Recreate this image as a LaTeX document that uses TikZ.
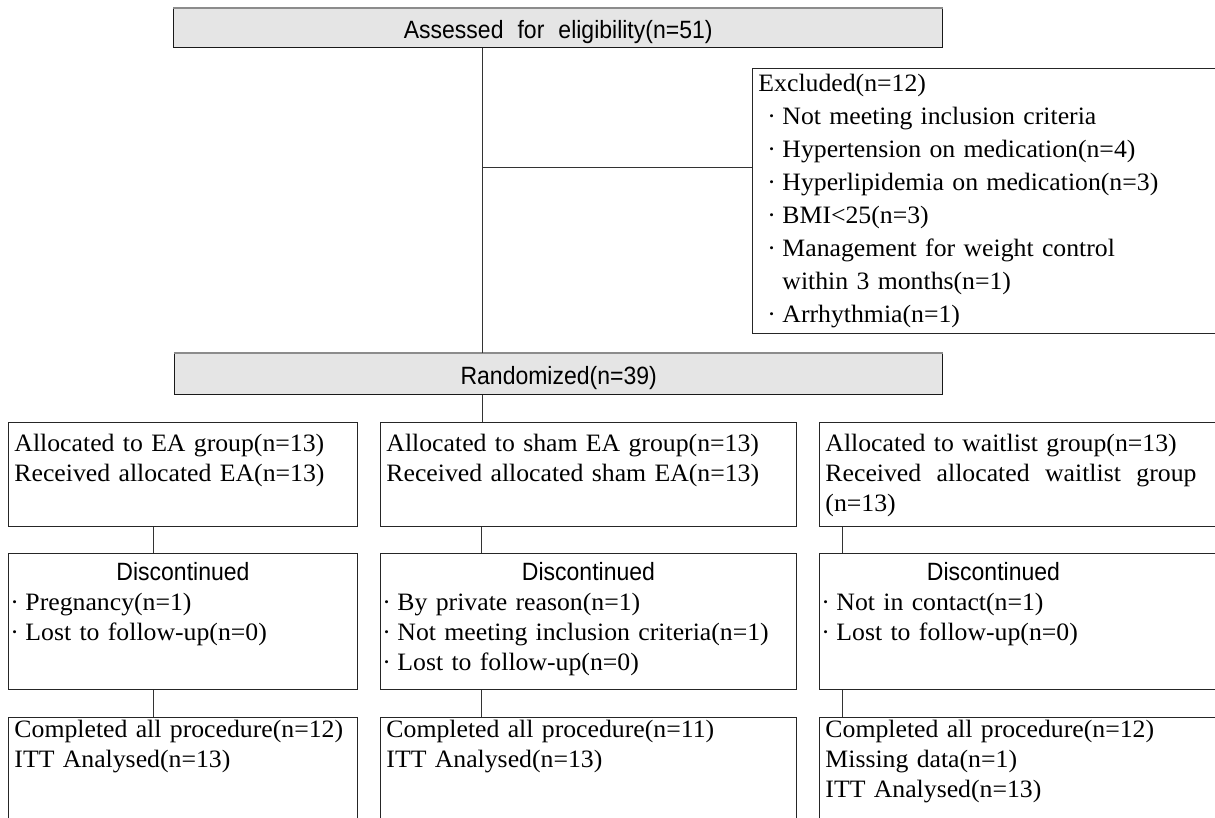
\documentclass[tikz,border=0pt]{standalone}
\usepackage{fontspec}
\setmainfont{Liberation Serif}[FakeStretch=1.03, WordSpace=1.3]
\newfontfamily\sanshead{Liberation Sans}[FakeStretch=0.92, WordSpace=2.2]
\usetikzlibrary{calc}
\newcommand{\itm}{\makebox[15pt][l]{·}}
\tikzset{
  cell/.style={draw=black!85, line width=0.9pt, anchor=north west, align=left,
    inner xsep=6pt, inner ysep=0pt, font={\fontsize{25pt}{30pt}\selectfont}},
  head/.style={draw=black!90, line width=1.4pt, fill=black!10, anchor=north west,
    inner sep=0pt, text height=21pt, text depth=0pt,
    font={\sanshead\fontsize{25pt}{30pt}\selectfont}},
  link/.style={draw=black!80, line width=0.8pt},
  topedge/.style={draw=black!45, line width=1.4pt},
}

\begin{document}
\begin{tikzpicture}[x=1pt, y=-1pt]
  \useasboundingbox (0,0) rectangle (1215,818);
  \clip (0,0) rectangle (1215,818);

  % screening
  \node[head, minimum width=769pt, minimum height=39pt] (assess) at (173,8) {Assessed for eligibility(n=51)};
  \node[cell, text width=456pt, text height=23pt, text depth=242pt,
    font={\fontsize{25pt}{33pt}\selectfont}] (excl) at (752,68) {Excluded(n=12)\\
    \hspace*{9pt}\itm Not meeting inclusion criteria\\
    \hspace*{9pt}\itm Hypertension on medication(n=4)\\
    \hspace*{9pt}\itm Hyperlipidemia on medication(n=3)\\
    \hspace*{9pt}\itm BMI<25(n=3)\\
    \hspace*{9pt}\itm Management for weight control\\
    \hspace*{24pt}within 3 months(n=1)\\
    \hspace*{9pt}\itm Arrhythmia(n=1)};
  \node[head, minimum width=768pt, minimum height=41pt] (rand) at (174,353) {Randomized(n=39)};

  % allocation
  \node[cell, text width=337pt, text height=29pt, text depth=75pt] (ea) at (8,422)
    {Allocated to EA group(n=13)\\ Received allocated EA(n=13)};
  \node[cell, text width=404pt, text height=29pt, text depth=75pt] (sham) at (380,422)
    {Allocated to sham EA group(n=13)\\ Received allocated sham EA(n=13)};
  \node[cell, text width=389pt, text height=29pt, text depth=75pt] (wait) at (819,422)
    {Allocated to waitlist group(n=13)\\
     \makebox[371pt][l]{Received\hfill allocated\hfill waitlist\hfill group}\\ (n=13)};

  % follow-up
  \node[cell, text width=337pt, text height=27pt, text depth=109pt] (eaoff) at (8,553)
    {\makebox[\linewidth]{\sanshead Discontinued}\\
     \hspace*{-4pt}\itm Pregnancy(n=1)\\
     \hspace*{-4pt}\itm Lost to follow-up(n=0)};
  \node[cell, text width=404pt, text height=27pt, text depth=109pt] (shamoff) at (380,553)
    {\makebox[\linewidth]{\sanshead Discontinued}\\
     \hspace*{-4pt}\itm By private reason(n=1)\\
     \hspace*{-4pt}\itm Not meeting inclusion criteria(n=1)\\
     \hspace*{-4pt}\itm Lost to follow-up(n=0)};
  \node[cell, text width=389pt, text height=27pt, text depth=109pt] (waitoff) at (819,553)
    {\makebox[336pt]{\sanshead Discontinued}\\
     \hspace*{-4pt}\itm Not in contact(n=1)\\
     \hspace*{-4pt}\itm Lost to follow-up(n=0)};

  % analysis
  \node[cell, text width=337pt, text height=20pt, text depth=93pt] (eadone) at (8,717)
    {Completed all procedure(n=12)\\ ITT Analysed(n=13)};
  \node[cell, text width=404pt, text height=20pt, text depth=93pt] (shamdone) at (380,717)
    {Completed all procedure(n=11)\\ ITT Analysed(n=13)};
  \node[cell, text width=389pt, text height=20pt, text depth=93pt] (waitdone) at (819,717)
    {Completed all procedure(n=12)\\ Missing data(n=1)\\ ITT Analysed(n=13)};

  \draw[topedge] (assess.north west) -- (assess.north east);
  \draw[topedge] (rand.north west) -- (rand.north east);

  % connectors
  \coordinate (spine) at (482,167);
  \coordinate (c1) at (153,0);
  \coordinate (c2) at (481,0);
  \coordinate (c3) at (842,0);
  \draw[link] (spine |- assess.south) -- (spine |- rand.north);
  \draw[link] (spine) -- (spine -| excl.west);
  \draw[link] (spine |- rand.south) -- (spine |- sham.north);
  \foreach \c/\a/\b in {c1/ea/eaoff, c1/eaoff/eadone, c2/sham/shamoff,
      c2/shamoff/shamdone, c3/wait/waitoff, c3/waitoff/waitdone}
    \draw[link] (\a.south -| \c) -- (\b.north -| \c);
\end{tikzpicture}
\end{document}
